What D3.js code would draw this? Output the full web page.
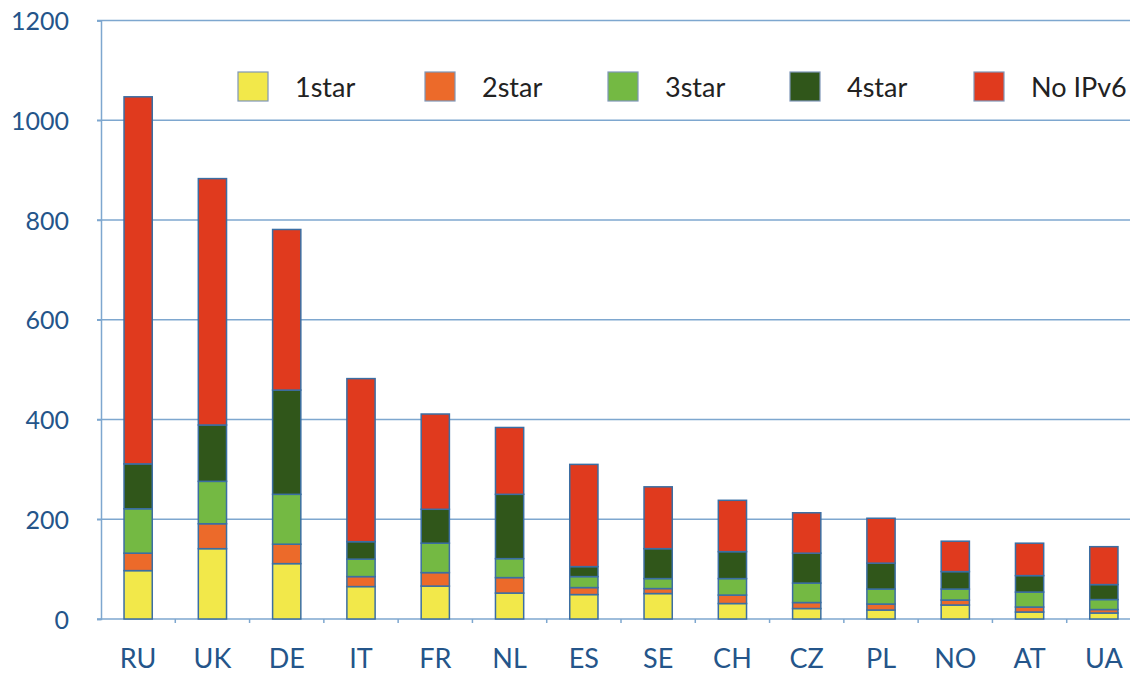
<!DOCTYPE html>
<html>
<head>
<meta charset="utf-8">
<script src="https://cdn.jsdelivr.net/npm/d3@7"></script>
<style>
  body { margin: 0; background: #fff; overflow: hidden; }
  svg { display: block; font-family: Lato, "Open Sans", sans-serif; }
</style>
</head>
<body>
<svg id="chart" width="1130" height="673"></svg>
<script>
var countries = ['RU','UK','DE','IT','FR','NL','ES','SE','CH','CZ','PL','NO','AT','UA'];
var seriesNames = ['1star','2star','3star','4star','No IPv6'];
var star1 = [97, 141, 111, 65, 66, 52, 49, 51, 31, 21, 18, 28, 14, 12];
var star2 = [35, 50, 39, 20, 27, 31, 14, 10, 17, 12, 12, 10, 10, 7];
var star3 = [89, 85, 100, 35, 59, 38, 22, 20, 33, 39, 30, 22, 30, 20];
var star4 = [90, 113, 209, 35, 68, 129, 20, 60, 54, 60, 52, 35, 33, 30];
var noIPv6 = [736, 494, 322, 327, 191, 134, 205, 124, 103, 81, 90, 61, 65, 76];
var yTicks = [0, 200, 400, 600, 800, 1000, 1200];
var colours = ['#f2e84a', '#ec6a2a', '#74b943', '#30561a', '#e03a1e'];

var rows = countries.map(function(c, i){
    return {country: c, '1star': star1[i], '2star': star2[i], '3star': star3[i], '4star': star4[i], 'No IPv6': noIPv6[i]};
});

var svg = d3.select('#chart');
var plotLeft = 101, plotRight = 1141, plotTop = 20.5, plotBottom = 619;

var x = d3.scaleBand().domain(countries).range([plotLeft, plotRight]).paddingInner(0.62).paddingOuter(0.31);
var y = d3.scaleLinear().domain([0, 1200]).range([plotBottom, plotTop]);
var colour = d3.scaleOrdinal().domain(seriesNames).range(colours);

var gridCol = '#7ea7cf';
var textCol = '#24558a';

//gridlines
svg.append('g')
    .selectAll('line')
    .data(yTicks.filter(function(d){ return d > 0; }))
    .enter()
    .append('line')
        .attr('x1', plotLeft - 4)
        .attr('x2', 1130)
        .attr('y1', function(d){ return y(d); })
        .attr('y2', function(d){ return y(d); })
        .attr('stroke', gridCol)
        .attr('stroke-width', 1.5);

//y axis
var yAxis = svg.append('g')
    .attr('transform', 'translate(' + plotLeft + ',0)')
    .call(d3.axisLeft(y).tickValues(yTicks).tickFormat(d3.format('d')).tickSize(4).tickPadding(28));
yAxis.select('.domain').attr('stroke', gridCol).attr('stroke-width', 1.5);
yAxis.selectAll('.tick line').attr('stroke', gridCol).attr('stroke-width', 1.5);
yAxis.selectAll('.tick text')
    .attr('fill', textCol)
    .attr('font-size', 25)
    .attr('font-family', 'Lato, sans-serif')
    .attr('dy', '0.36em');

//x axis
var bandStep = x.step();
var xAxis = svg.append('g')
    .attr('transform', 'translate(0,' + plotBottom + ')');
xAxis.append('line')
    .attr('x1', plotLeft - 4).attr('x2', 1130)
    .attr('stroke', gridCol).attr('stroke-width', 1.5);
xAxis.selectAll('line.tick')
    .data(countries.slice(1))
    .enter()
    .append('line')
        .attr('class', 'tick')
        .attr('x1', function(d){ return x(d) - (bandStep - x.bandwidth()) / 2; })
        .attr('x2', function(d){ return x(d) - (bandStep - x.bandwidth()) / 2; })
        .attr('y1', 0).attr('y2', 4)
        .attr('stroke', gridCol).attr('stroke-width', 1.5);
xAxis.selectAll('text')
    .data(countries)
    .enter()
    .append('text')
        .attr('x', function(d){ return x(d) + x.bandwidth() / 2; })
        .attr('y', 49)
        .attr('text-anchor', 'middle')
        .attr('fill', textCol)
        .attr('font-size', 27)
        .text(function(d){ return d; });

//stacked bars
var stacked = d3.stack().keys(seriesNames)(rows);
svg.append('g')
    .selectAll('g')
    .data(stacked)
    .enter()
    .append('g')
        .attr('fill', function(d){ return colour(d.key); })
    .selectAll('rect')
    .data(function(d){ return d; })
    .enter()
    .append('rect')
        .attr('x', function(d){ return x(d.data.country); })
        .attr('width', x.bandwidth())
        .attr('y', function(d){ return y(d[1]); })
        .attr('height', function(d){ return y(d[0]) - y(d[1]); })
        .attr('stroke', '#3b6ea3')
        .attr('stroke-width', 1.5);

//legend
var legendX = [238, 425, 608, 790, 974];
var legend = svg.append('g')
    .selectAll('g')
    .data(seriesNames)
    .enter()
    .append('g')
        .attr('transform', function(d, i){ return 'translate(' + legendX[i] + ',72)'; });
legend.append('rect')
    .attr('width', 30)
    .attr('height', 29)
    .attr('fill', function(d){ return colour(d); })
    .attr('stroke', '#7f97b8')
    .attr('stroke-width', 1.2);
legend.append('text')
    .attr('x', 57)
    .attr('y', 25)
    .attr('font-size', 27)
    .attr('fill', '#222')
    .text(function(d){ return d; });
</script>
</body>
</html>
